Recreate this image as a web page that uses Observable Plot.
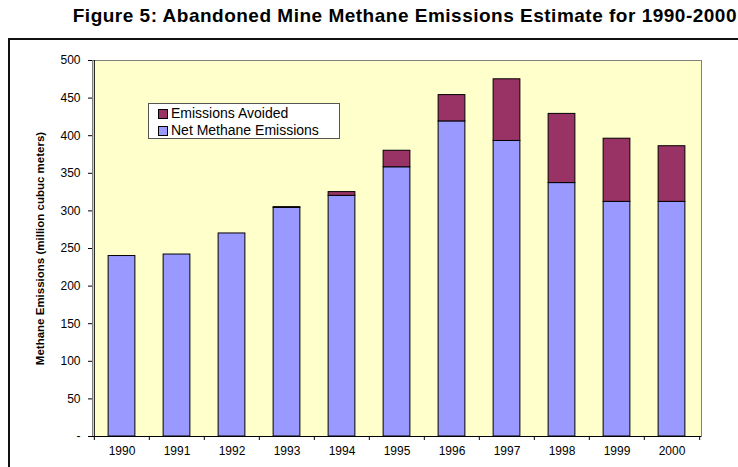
<!DOCTYPE html>
<html>
<head>
<meta charset="utf-8">
<script src="https://cdn.jsdelivr.net/npm/d3@7"></script>
<script src="https://cdn.jsdelivr.net/npm/@observablehq/plot@0.6"></script>
<style>
  html, body { margin: 0; padding: 0; background: #fff; }
  #wrap { position: relative; width: 738px; height: 467px; overflow: hidden; font-family: "Liberation Sans", Arial, sans-serif; }
  #title { position: absolute; left: 0; right: 1px; top: 6px; text-align: right; font-weight: bold; font-size: 19px; letter-spacing: 0.5px; line-height: 20px; color: #000; white-space: nowrap; }
  #border { position: absolute; left: 8px; top: 38px; width: 760px; height: 460px; border: 2px solid #111; box-sizing: border-box; }
  #chart { position: absolute; left: 0; top: 38px; }
  #legend { position: absolute; left: 148px; top: 103px; width: 192px; height: 36px; box-sizing: border-box; border: 1px solid #555; background: #fff; font-size: 14px; line-height: 17px; padding: 1px 0 0 9px; }
  #legend .row { display: flex; align-items: center; white-space: nowrap; }
  #legend .sw { width: 8px; height: 8px; border: 1px solid #000; margin-right: 3px; flex: none; }
</style>
</head>
<body>
<div id="wrap">
  <div id="title">Figure 5: Abandoned Mine Methane Emissions Estimate for 1990-2000</div>
  <div id="border"></div>
  <div id="chart"></div>
  <div id="legend"></div>
</div>
<script>
// Annual abandoned mine methane, million cubic meters
const years = ["1990", "1991", "1992", "1993", "1994", "1995", "1996", "1997", "1998", "1999", "2000"];
const netEmissions = [240, 242, 270, 304, 320, 358, 419, 393, 337, 312, 312];
const emissionsAvoided = [0, 0, 0, 1, 5, 22, 35, 82, 92, 84, 74];
const seriesNames = ["Net Methane Emissions", "Emissions Avoided"];
const seriesColors = ["#9999FF", "#993366"];
const legendOrder = ["Emissions Avoided", "Net Methane Emissions"];
const yTicks = [0, 50, 100, 150, 200, 250, 300, 350, 400, 450, 500];
const yLabel = "Methane Emissions (million cubuc meters)";

const rows = years.flatMap((year, i) => [
  {year, series: seriesNames[0], value: netEmissions[i]},
  {year, series: seriesNames[1], value: emissionsAvoided[i]}
]).filter(d => d.value > 0);

const width = 738, height = 429;
const marginLeft = 92, marginRight = 37, marginTop = 22, marginBottom = 31;
const step = (width - marginLeft - marginRight) / years.length;
const inset = step * 0.255;

const chart = Plot.plot({
  width, height, marginLeft, marginRight, marginTop, marginBottom,
  style: {fontFamily: "'Liberation Sans', Arial, sans-serif", fontSize: "12px", color: "#000", background: "transparent"},
  x: {type: "band", domain: years, padding: 0, axis: null},
  y: {domain: [0, 500], axis: null},
  color: {domain: seriesNames, range: seriesColors},
  marks: [
    Plot.frame({fill: "#FFFFCC", stroke: "#808080"}),
    Plot.barY(rows, {x: "year", y: "value", fill: "series", stroke: "#000", strokeWidth: 1,
      order: seriesNames, insetLeft: inset, insetRight: inset}),
    Plot.ruleY([0], {stroke: "#000"}),
    Plot.ruleX([years[0]], {dx: -step / 2, stroke: "#000"}),
    Plot.axisY(yTicks, {tickSize: 4, tickPadding: 8, tickFormat: d => d === 0 ? "-" : d, label: null, fontSize: 12}),
    Plot.axisX({tickSize: 0, tickPadding: 10, label: null, fontSize: 12}),
    Plot.axisX({tickSize: 4, tickFormat: () => "", label: null, dx: -step / 2}),
    Plot.axisX([years[years.length - 1]], {tickSize: 4, tickFormat: () => "", label: null, dx: step / 2}),
    Plot.text([yLabel], {frameAnchor: "left", rotate: -90, dx: -52, textAnchor: "middle", fontWeight: "bold", fontSize: 11.5})
  ]
});
document.getElementById("chart").appendChild(chart);

// Legend box
const legend = document.getElementById("legend");
for (const name of legendOrder) {
  const row = document.createElement("div");
  row.className = "row";
  const sw = document.createElement("span");
  sw.className = "sw";
  sw.style.background = seriesColors[seriesNames.indexOf(name)];
  row.appendChild(sw);
  row.appendChild(document.createTextNode(name));
  legend.appendChild(row);
}
</script>
</body>
</html>
